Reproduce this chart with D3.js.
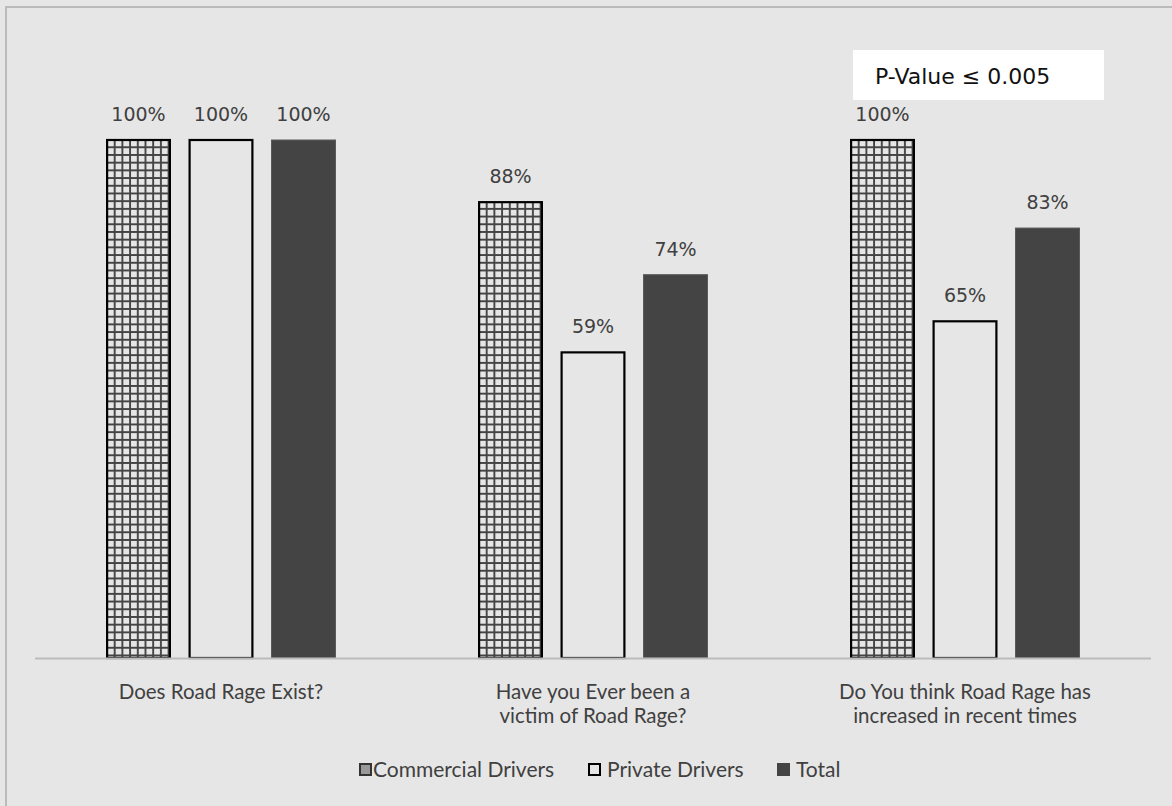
<!DOCTYPE html>
<html>
<head>
<meta charset="utf-8">
<script src="https://cdn.jsdelivr.net/npm/d3@7"></script>
<style>
  body { margin: 0; background: #fff; }
  svg { display: block; }
</style>
</head>
<body>
<svg id="chart"></svg>
<script>
// --------------------------------------------------------------------------------------
// data
// --------------------------------------------------------------------------------------
var categories = [
  ["Does Road Rage Exist?"],
  ["Have you Ever been a", "victim of Road Rage?"],
  ["Do You think Road Rage has", "increased in recent times"]
];
var series_names = ["Commercial Drivers", "Private Drivers", "Total"];
var commercial = [100, 88, 100];
var private_drv = [100, 59, 65];
var total = [100, 74, 83];
var note = "P-Value \u2264 0.005";

// --------------------------------------------------------------------------------------
var W = 1172, H = 806;
var plot = {left: 35, right: 1151, top: 140, bottom: 658};
var text_col = "#404040";

var svg = d3.select("#chart").attr("width", W).attr("height", H);

// grid pattern for commercial drivers
var defs = svg.append("defs");
var pat = defs.append("pattern")
  .attr("id", "grid")
  .attr("patternUnits", "userSpaceOnUse")
  .attr("width", 7.7)
  .attr("height", 7.7);
pat.append("rect").attr("width", 7.7).attr("height", 7.7).attr("fill", "#e6e6e6");
pat.append("path")
  .attr("d", "M1,0 V7.7 M0,1 H7.7")
  .attr("stroke", "#444")
  .attr("stroke-width", 1.9);

// background + frame (top and left edge visible)
svg.append("rect").attr("width", W).attr("height", H).attr("fill", "#e6e6e6");
svg.append("path")
  .attr("d", "M6," + H + " V7 H" + W)
  .attr("fill", "none")
  .attr("stroke", "#bbbbbb")
  .attr("stroke-width", 2);

// scales
var x0 = d3.scaleBand()
  .domain(d3.range(categories.length))
  .range([plot.left, plot.right]);
var x1 = d3.scaleBand()
  .domain(d3.range(series_names.length))
  .range([0, 230])
  .paddingInner(17.5 / 82.5);
var y = d3.scaleLinear()
  .domain([0, 100])
  .range([plot.bottom, plot.top]);

var styles = [
  {fill: "url(#grid)", stroke: "#000", sw: 2.2},
  {fill: "#e6e6e6", stroke: "#000", sw: 2.2},
  {fill: "#444444", stroke: "#5a5a5a", sw: 1}
];
var values = [commercial, private_drv, total];

// bars
var groups = svg.selectAll(".group")
  .data(categories)
  .enter()
  .append("g")
  .attr("class", "group")
  .attr("transform", function(d, i) {
    return "translate(" + (x0(i) + x0.bandwidth() / 2 - 115) + ",0)";
  });

groups.each(function(cat, ci) {
  var g = d3.select(this);
  series_names.forEach(function(s, si) {
    var v = values[si][ci];
    var st = styles[si];
    var bx = x1(si) + st.sw / 2, bw = x1.bandwidth() - st.sw;
    g.append("rect")
      .attr("x", bx)
      .attr("y", y(v))
      .attr("width", bw)
      .attr("height", y(0) - y(v))
      .attr("fill", st.fill)
      .attr("stroke", st.stroke)
      .attr("stroke-width", st.sw);
    g.append("text")
      .attr("x", x1(si) + x1.bandwidth() / 2)
      .attr("y", y(v) - 19)
      .attr("text-anchor", "middle")
      .style("font-family", "'DejaVu Sans', sans-serif")
      .style("font-size", "19px")
      .style("fill", text_col)
      .text(v + "%");
  });
});

// x axis line
svg.append("line")
  .attr("x1", plot.left).attr("x2", plot.right)
  .attr("y1", plot.bottom + 0.5).attr("y2", plot.bottom + 0.5)
  .attr("stroke", "#bbbbbb")
  .attr("stroke-width", 2);

// category labels, one text per line
categories.forEach(function(lines, ci) {
  lines.forEach(function(l, li) {
    svg.append("text")
      .attr("x", x0(ci) + x0.bandwidth() / 2)
      .attr("y", 699 + li * 24)
      .attr("text-anchor", "middle")
      .style("font-family", "Lato, sans-serif")
      .style("font-size", "20.5px")
      .style("fill", text_col)
      .text(l);
  });
});

// p-value box
svg.append("rect")
  .attr("x", 853).attr("y", 50)
  .attr("width", 251).attr("height", 50)
  .attr("fill", "#ffffff");
svg.append("text")
  .attr("x", 875).attr("y", 84)
  .style("font-family", "'DejaVu Sans', sans-serif")
  .style("font-size", "22px")
  .style("fill", "#111")
  .text(note);

// legend
var legend_x = [359, 588, 777];
var legend = svg.selectAll(".legend")
  .data(series_names)
  .enter()
  .append("g")
  .attr("class", "legend")
  .attr("transform", function(d, i) { return "translate(" + legend_x[i] + ",763)"; });

legend.append("rect")
  .attr("x", function(d, i) { return i == 2 ? 0 : 1; })
  .attr("y", function(d, i) { return i == 2 ? 0 : 1; })
  .attr("width", function(d, i) { return i == 2 ? 13 : 11; })
  .attr("height", function(d, i) { return i == 2 ? 13 : 11; })
  .attr("fill", function(d, i) { return i == 0 ? "#999" : styles[i].fill; })
  .attr("stroke", function(d, i) { return i == 2 ? "none" : (i == 0 ? "#333" : "#000"); })
  .attr("stroke-width", 2);

legend.append("text")
  .attr("x", function(d, i) { return i == 0 ? 14 : 19; })
  .attr("y", 14)
  .style("font-family", "Lato, sans-serif")
  .style("font-size", "21px")
  .style("fill", text_col)
  .text(function(d) { return d; });
</script>
</body>
</html>
